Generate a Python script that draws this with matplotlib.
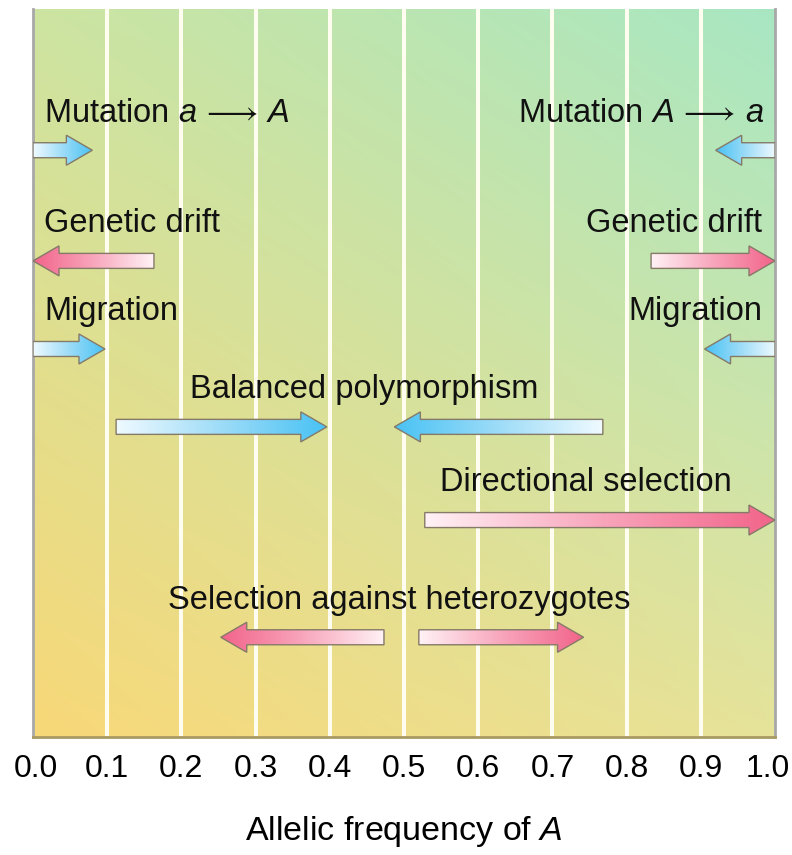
import numpy as np
import matplotlib
matplotlib.use("Agg")
import matplotlib.pyplot as plt
import matplotlib.transforms as mtransforms
from matplotlib.patches import Polygon
from matplotlib.colors import LinearSegmentedColormap, to_rgb

plt.rcParams['font.family'] = ['Liberation Sans', 'DejaVu Sans']
plt.rcParams['mathtext.fontset'] = 'custom'
plt.rcParams['mathtext.rm'] = 'Liberation Sans'
plt.rcParams['mathtext.it'] = 'Liberation Sans:italic'
plt.rcParams['mathtext.fallback'] = 'stix'

# forces acting on the allelic frequency of A: (label, arrows as (start, end), colour)
labels = ["Mutation $\\it{a}\\,{\\longrightarrow}\\,\\it{A}$", "Mutation $\\it{A}\\,{\\longrightarrow}\\,\\it{a}$",
          "Genetic drift", "Genetic drift",
          "Migration", "Migration",
          "Balanced polymorphism", "Directional selection",
          "Selection against heterozygotes"]
arrow_starts = [[0.0], [1.0], [0.163], [0.833], [0.0], [1.0],
                [0.112, 0.768], [0.528], [0.473, 0.520]]
arrow_ends = [[0.08], [0.92], [0.0], [1.0], [0.097], [0.905],
              [0.396, 0.487], [1.0], [0.253, 0.742]]
kinds = ["blue", "blue", "pink", "pink", "blue", "blue", "blue", "pink", "pink"]
ticks = [0.0, 0.1, 0.2, 0.3, 0.4, 0.5, 0.6, 0.7, 0.8, 0.9, 1.0]

# layout: row heights (axes fraction) and text placement
row_y = [0.806, 0.806, 0.654, 0.654, 0.533, 0.533, 0.426, 0.298, 0.137]
text_dy = 0.051
text_pos = [(0.015, 'left'), (0.985, 'right'), (0.015, 'left'), (0.983, 'right'),
            (0.015, 'left'), (0.983, 'right'), (0.447, 'center'), (0.745, 'center'),
            (0.494, 'center')]

cmaps = {
    "blue": LinearSegmentedColormap.from_list("b", ["#effaff", "#9ddcf8", "#48c2f4"]),
    "pink": LinearSegmentedColormap.from_list("p", ["#fff2f6", "#f8a6bc", "#f2648a"]),
}

W, H = 792, 855
fig = plt.figure(figsize=(W / 100, H / 100), dpi=100)
ax = fig.add_axes([33 / W, 1 - 737 / H, (775 - 33) / W, (737 - 9) / H])
px_x = 742.0  # pixels per x unit
px_y = 728.0

# background gradient
tl, tr = np.array(to_rgb("#cde4a1")), np.array(to_rgb("#a8e7c3"))
bl, br = np.array(to_rgb("#f8d878")), np.array(to_rgb("#e6e39a"))
u = np.linspace(0, 1, 200)[None, :, None]
v = np.linspace(0, 1, 200)[:, None, None]
bg = (1 - v) * ((1 - u) * tl + u * tr) + v * ((1 - u) * bl + u * br)
ax.imshow(bg, extent=[0, 1, 0, 1], aspect='auto', zorder=0, interpolation='bilinear')

for t in ticks[1:-1]:
    ax.axvline(t, color='#fffdf0', lw=2.9, zorder=1)


def grad_arrow(x0, x1, y, kind):
    d = 1 if x1 > x0 else -1
    hl = 26 / px_x
    sw = 7.5 / px_y
    hw = 15 / px_y
    xs = x1 - d * hl
    verts = [(x0, y - sw), (xs, y - sw), (xs, y - hw), (x1, y),
             (xs, y + hw), (xs, y + sw), (x0, y + sw)]
    poly = Polygon(verts, closed=True, fc='none', ec='#857a68', lw=1.0, zorder=4)
    ax.add_patch(poly)
    g = np.linspace(0, 1, 256).reshape(1, -1)
    if d < 0:
        g = g[:, ::-1]
    im = ax.imshow(g, cmap=cmaps[kind], extent=[min(x0, x1), max(x0, x1), y - hw, y + hw],
                   aspect='auto', zorder=3, interpolation='bilinear')
    im.set_clip_path(poly)


for lab, xs0, xs1, kind, y, (tx, ha) in zip(labels, arrow_starts, arrow_ends, kinds, row_y, text_pos):
    for a, b in zip(xs0, xs1):
        grad_arrow(a, b, y, kind)
    ax.text(tx, y + text_dy, lab, ha=ha, va='center', fontsize=23.5, color='#111111', zorder=5)

ax.set_xlim(0, 1)
ax.set_ylim(0, 1)
ax.set_yticks([])
ax.set_xticks(ticks)
ax.set_xticklabels(["%.1f" % t for t in ticks], fontsize=23)
ax.tick_params(axis='x', length=0, pad=12)
# nudge the end labels inward a little so they stay inside the canvas
for lbl, dx in [(ax.get_xticklabels()[0], 3), (ax.get_xticklabels()[-1], -7)]:
    lbl.set_transform(lbl.get_transform() + mtransforms.ScaledTranslation(dx / 100, 0, fig.dpi_scale_trans))
ax.set_xlabel("Allelic frequency of $\\it{A}$", fontsize=24.5, labelpad=22)
ax.spines['top'].set_visible(False)
ax.spines['left'].set_color('#a8a8a8')
ax.spines['right'].set_color('#a8a8a8')
ax.spines['bottom'].set_color('#a89a62')
for s in ['left', 'right', 'bottom']:
    ax.spines[s].set_linewidth(2)

fig.savefig("out.png", dpi=100)
